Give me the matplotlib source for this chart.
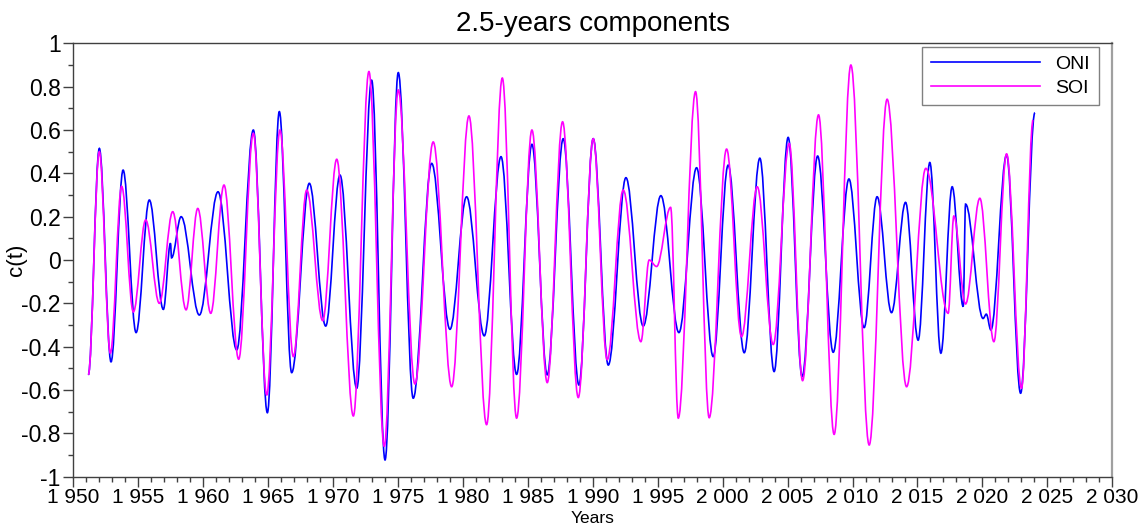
import numpy as np
import matplotlib
matplotlib.use("Agg")
from matplotlib import pyplot as plt
from matplotlib.path import Path
from matplotlib.patches import PathPatch
from matplotlib.lines import Line2D
from matplotlib.ticker import MultipleLocator, FuncFormatter

plt.rcParams['font.family'] = ['Liberation Sans', 'DejaVu Sans']

# Turning points (year, value) of the 2.5-year components
oni_years = [1951.15, 1952.0, 1952.9, 1953.83, 1954.83, 1955.85, 1956.93, 1957.48, 1957.56,
             1958.3, 1959.7, 1961.14, 1962.58, 1963.86, 1964.94, 1965.86, 1966.81, 1968.17,
             1969.43, 1970.53, 1971.82, 1972.97, 1974.0, 1975.02, 1976.17, 1977.59, 1979.0,
             1980.28, 1981.64, 1982.93, 1984.13, 1985.31, 1986.49, 1987.72, 1988.93, 1990.03,
             1991.19, 1992.55, 1993.88, 1995.24, 1996.63, 1997.99, 1999.27, 2000.42, 2001.66,
             2002.86, 2003.96, 2005.04, 2006.12, 2007.31, 2008.51, 2009.72, 2010.89, 2011.89,
             2013.0, 2014.08, 2015.05, 2015.95, 2016.8, 2017.67, 2018.52, 2018.7, 2020.05,
             2020.3, 2020.65, 2021.86, 2022.94, 2024.04]
oni_values = [-0.53, 0.515, -0.47, 0.415, -0.335, 0.277, -0.228, 0.077, 0.01,
              0.2, -0.254, 0.315, -0.415, 0.6, -0.705, 0.685, -0.52, 0.354,
              -0.305, 0.392, -0.592, 0.83, -0.923, 0.865, -0.638, 0.446, -0.32,
              0.292, -0.35, 0.477, -0.528, 0.534, -0.53, 0.56, -0.577, 0.56,
              -0.485, 0.38, -0.305, 0.297, -0.335, 0.426, -0.446, 0.438, -0.428,
              0.47, -0.515, 0.566, -0.538, 0.48, -0.426, 0.374, -0.312, 0.292,
              -0.243, 0.266, -0.37, 0.45, -0.43, 0.338, -0.215, 0.258, -0.27,
              -0.25, -0.323, 0.485, -0.615, 0.68]

soi_years = [1951.15, 1952.0, 1952.85, 1953.72, 1954.62, 1955.57, 1956.62, 1957.65, 1958.68,
             1959.58, 1960.58, 1961.6, 1962.73, 1963.86, 1964.89, 1965.91, 1966.94, 1967.97,
             1969.2, 1970.28, 1971.56, 1972.76, 1973.94, 1975.02, 1976.3, 1977.71, 1979.13,
             1980.46, 1981.82, 1983.03, 1984.13, 1985.31, 1986.49, 1987.67, 1988.88, 1990.03,
             1991.11, 1992.34, 1993.7, 1994.34, 1994.91, 1995.99, 1996.58, 1997.91, 1998.96,
             2000.3, 2001.45, 2002.66, 2003.89, 2005.12, 2006.15, 2007.38, 2008.58, 2009.87,
             2011.28, 2012.66, 2014.16, 2015.64, 2017.36, 2017.8, 2018.7, 2019.8, 2020.88,
             2021.86, 2023.01, 2023.9]
soi_values = [-0.53, 0.5, -0.43, 0.34, -0.24, 0.185, -0.2, 0.223, -0.23,
              0.238, -0.246, 0.346, -0.458, 0.585, -0.623, 0.6, -0.446, 0.323,
              -0.28, 0.465, -0.72, 0.87, -0.86, 0.785, -0.572, 0.545, -0.585,
              0.665, -0.76, 0.84, -0.73, 0.6, -0.566, 0.638, -0.635, 0.56,
              -0.46, 0.323, -0.377, 0.0, -0.03, 0.243, -0.73, 0.777, -0.728,
              0.512, -0.354, 0.338, -0.39, 0.538, -0.557, 0.67, -0.805, 0.9,
              -0.854, 0.742, -0.585, 0.423, -0.246, 0.203, -0.203, 0.285, -0.377,
              0.49, -0.592, 0.646]


def smooth_curve(xs, ys, color, ax):
    # cubic bezier between turning points, flat tangent at each one
    k = 0.36
    verts = [(xs[0], ys[0])]
    codes = [Path.MOVETO]
    for i in range(1, len(xs)):
        dx = xs[i] - xs[i - 1]
        verts += [(xs[i - 1] + k * dx, ys[i - 1]), (xs[i] - k * dx, ys[i]), (xs[i], ys[i])]
        codes += [Path.CURVE4] * 3
    patch = PathPatch(Path(verts, codes), facecolor='none', edgecolor=color, lw=1.2)
    ax.add_patch(patch)


fig = plt.figure(figsize=(11.48, 5.29), dpi=100)
ax = fig.add_axes([0.0639, 0.099, 0.905, 0.819])

smooth_curve(oni_years, oni_values, '#0000ff', ax)
smooth_curve(soi_years, soi_values, '#ff00ff', ax)

ax.set_xlim(1950, 2030)
ax.set_ylim(-1, 1)
ax.xaxis.set_major_locator(MultipleLocator(5))
ax.xaxis.set_minor_locator(MultipleLocator(1))
ax.yaxis.set_major_locator(MultipleLocator(0.2))
ax.yaxis.set_minor_locator(MultipleLocator(0.1))
ax.xaxis.set_major_formatter(FuncFormatter(lambda v, p: f"{int(round(v)):,}".replace(",", " ")))
ax.yaxis.set_major_formatter(FuncFormatter(lambda v, p: f"{round(v, 1):g}"))
ax.tick_params(which='major', length=7, width=1, color='#404040')
ax.tick_params(axis='x', which='major', pad=1, labelsize=15)
ax.tick_params(axis='y', which='major', pad=2, labelsize=16.5)
ax.tick_params(which='minor', length=3.5, width=1, color='#404040')

for side in ['left', 'bottom', 'top']:
    ax.spines[side].set_color('#404040')
    ax.spines[side].set_linewidth(1)
ax.spines['right'].set_color('#a0a0a0')
ax.spines['right'].set_linewidth(1.6)

ax.set_title("2.5-years components", fontsize=20, pad=9)
ax.set_xlabel("Years", fontsize=12.5)
ax.xaxis.set_label_coords(0.5, -0.08)
ax.set_ylabel("c(t)", fontsize=16)
ax.yaxis.set_label_coords(-0.045, 0.5)

handles = [Line2D([], [], color='#0000ff', lw=1.2, label='ONI'),
           Line2D([], [], color='#ff00ff', lw=1.2, label='SOI')]
leg = ax.legend(handles=handles, loc='upper right', bbox_to_anchor=(0.987, 0.992),
                borderaxespad=0, fontsize=14, handlelength=5.6, handletextpad=0.8,
                labelspacing=0.3, borderpad=0.45, fancybox=False, framealpha=1)
leg.get_frame().set_edgecolor('#808080')
leg.get_frame().set_linewidth(1)

plt.savefig("out.png", dpi=100)
